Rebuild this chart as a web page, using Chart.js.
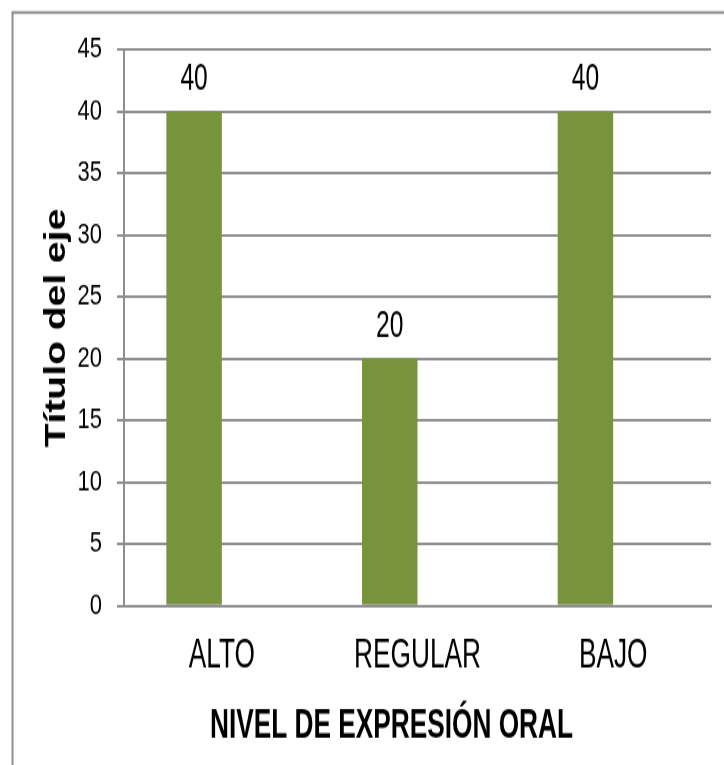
<!DOCTYPE html>
<html>
<head>
<meta charset="utf-8">
<script src="https://cdn.jsdelivr.net/npm/chart.js@4.4.1/dist/chart.umd.min.js"></script>
<style>
  html, body { margin: 0; padding: 0; background: #fff; overflow: hidden; }
  /* the chart is drawn short and stretched to the full page height */
  #wrap { position: absolute; left: 0; top: 0; width: 724px; height: 588px;
          transform: scaleY(1.30102); transform-origin: 0 0; }
</style>
</head>
<body>
<div id="wrap"><canvas id="myChart"></canvas></div>
<script>
var categorias = ['ALTO', 'REGULAR', 'BAJO'];
var valores = [40, 20, 40];
var serie2 = [null, null, null];
var ejeY = { min: 0, max: 45, paso: 5 };
var tituloX = 'NIVEL DE EXPRESIÓN ORAL';
var tituloY = 'Título del eje';

var verde = '#77933c';
var gris = '#8e8e8e';
var fuente = '"Liberation Sans", Arial, sans-serif';
var estrecho = 0.82;   // narrow face, squeezed horizontally

function textoEstrecho(ctx, texto, x, y) {
    ctx.save();
    ctx.translate(x, y);
    ctx.scale(estrecho, 1);
    ctx.fillText(texto, 0, 0);
    ctx.restore();
}

// outer frame of the chart object
var marco = {
    id: 'marco',
    beforeDraw: function(chart) {
        var ctx = chart.ctx;
        ctx.save();
        ctx.fillStyle = '#fff';
        ctx.fillRect(0, 0, chart.width, chart.height);
        ctx.strokeStyle = gris;
        ctx.lineWidth = 2;
        ctx.strokeRect(12.5, 9.6, 900, 900);
        ctx.restore();
    }
};

// category names, x title and the value above each bar, in a narrow face
var textos = {
    id: 'textos',
    afterDatasetsDraw: function(chart) {
        var ctx = chart.ctx;
        var area = chart.chartArea;
        var sx = chart.scales.x;
        var meta = chart.getDatasetMeta(0);
        ctx.save();
        ctx.fillStyle = '#000';
        ctx.textAlign = 'center';
        ctx.textBaseline = 'alphabetic';

        ctx.font = '32px ' + fuente;
        for (var i = 0; i < sx.ticks.length; i++) {
            textoEstrecho(ctx, categorias[i], sx.getPixelForTick(i), area.bottom + 47);
        }

        ctx.font = 'bold 32px ' + fuente;
        textoEstrecho(ctx, tituloX, (area.left + area.right) / 2 - 26, area.bottom + 100.7);

        ctx.font = '30px ' + fuente;
        for (var j = 0; j < meta.data.length; j++) {
            var bar = meta.data[j];
            textoEstrecho(ctx, String(valores[j]), bar.x, bar.y - 16.5);
        }
        ctx.restore();
    }
};

var ctx = document.getElementById('myChart');

var myChart = new Chart(ctx, {
    type: 'bar',
    data: {
        labels: categorias,
        datasets: [
            {
                label: 'Serie 1',
                data: valores,
                backgroundColor: verde,
                borderWidth: 0,
                categoryPercentage: 0.567,
                barPercentage: 1
            },
            {
                label: 'Serie 2',
                data: serie2,
                backgroundColor: '#c0504d',
                borderWidth: 0,
                categoryPercentage: 0.567,
                barPercentage: 1
            }
        ]
    },
    options: {
        responsive: true,
        maintainAspectRatio: false,
        animation: false,
        events: [],
        layout: { padding: { left: 38, right: 13, top: 38.4, bottom: 9.2 } },
        plugins: {
            legend: { display: false },
            tooltip: { enabled: false }
        },
        scales: {
            x: {
                grid: { display: false, drawTicks: false },
                border: { display: true, color: gris, width: 2 },
                ticks: { display: false },
                title: { display: false, text: tituloX },
                afterFit: function(scale) { scale.height = 113; }
            },
            y: {
                min: ejeY.min,
                max: ejeY.max,
                ticks: {
                    stepSize: ejeY.paso,
                    color: '#000',
                    padding: 15,
                    font: { family: fuente, size: 22 }
                },
                grid: { color: gris, lineWidth: 2, tickLength: 7, drawTicks: true },
                border: { display: true, color: gris, width: 2 },
                title: {
                    display: true,
                    text: tituloY,
                    color: '#000',
                    padding: { top: 1, bottom: 4 },
                    font: { family: fuente, size: 30, weight: 'bold' }
                },
                afterFit: function(scale) { scale.width = 86; }
            }
        }
    },
    plugins: [marco, textos]
});
</script>
</body>
</html>
